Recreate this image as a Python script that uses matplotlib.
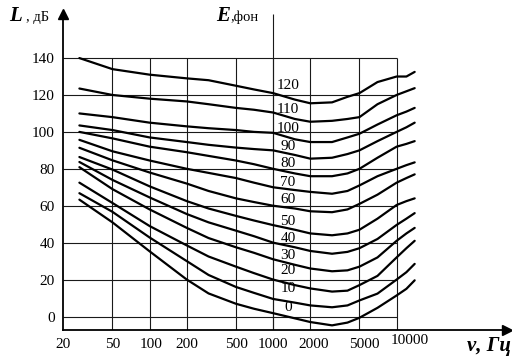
import numpy as np
import matplotlib
matplotlib.use("Agg")
from matplotlib import pyplot as plt

plt.rcParams['font.family'] = ['Liberation Serif', 'DejaVu Serif']

# equal-loudness contours, level L (dB)
freqs = [27, 50, 100, 200, 300, 500, 700, 1000, 1500, 2000, 3000, 4000, 5000, 7000, 10000, 12000, 14000]
L120 = [140, 134, 131, 129, 128, 125, 123, 121, 117.5, 115.5, 116, 119, 121, 127, 130, 130, 132.5]
L110 = [123.5, 120, 118, 116.5, 115, 113, 112, 110.5, 107, 105.5, 106, 107, 108, 115, 120, 122, 123.7]
L100 = [110, 108, 105, 103, 102, 101, 100, 99.5, 96, 94.5, 94.5, 97, 99, 104, 109, 111, 113]
L90 = [103.5, 101, 97, 94.5, 93, 91.5, 90.7, 90, 87.5, 85.5, 86, 88, 90, 95, 100, 102.5, 105]
L80 = [100, 96.5, 92, 89, 87, 84.5, 82.5, 80, 77.5, 76, 76, 77.5, 80, 86, 92, 93.5, 95]
L70 = [95.7, 89.5, 84.5, 80, 77.8, 75, 72.5, 70, 68.5, 67.5, 66.5, 68, 71, 76, 80, 82, 83.5]
L60 = [91.4, 84.6, 78, 72, 68, 64, 62, 60, 58.5, 57, 56.5, 58, 61, 66, 72.5, 75, 77]
L50 = [86.4, 79.6, 70.5, 62.5, 58.5, 54.5, 52, 49.5, 47, 45, 44, 45, 47, 53, 60.4, 62.5, 64]
L40 = [83.7, 74, 64.5, 55.5, 51, 46.5, 43.5, 40, 37.5, 35.5, 34, 35, 37, 42, 49.6, 53, 56]
L30 = [80.9, 69, 58, 48, 42.5, 37.5, 34.5, 31, 28, 26, 24.5, 25, 27, 32, 41, 45, 48]
L20 = [72.5, 61.5, 49, 38.5, 32.5, 27, 23.5, 20, 17, 15.2, 13.5, 14, 17, 22, 32, 37, 41]
L10 = [66.8, 56.7, 42.8, 30, 22.5, 16, 12.8, 9.5, 7.5, 6, 5, 6, 8.7, 12.4, 20, 24, 28.5]
L0 = [63.3, 51, 35.3, 20, 12.5, 6.9, 4.2, 1.8, -1, -3, -4.8, -3.3, -0.7, 4.7, 11.4, 15, 19.6]

phons = [120, 110, 100, 90, 80, 70, 60, 50, 40, 30, 20, 10, 0]
curves = [L120, L110, L100, L90, L80, L70, L60, L50, L40, L30, L20, L10, L0]

x_ticks = [20, 50, 100, 200, 500, 1000, 2000, 5000, 10000]
y_ticks = [0, 20, 40, 60, 80, 100, 120, 140]

W, H = 512, 362
# pixel layout of the scan
x0_px, px_per_dec = 63.3, 123.5
y0_px, px_per_db = 316.5, 1.846
left_px, right_px, top_px, bot_px = 63.3, 507, 14, 330
# how far (px) each contour label sits above its curve at 1000 Hz
lab_up = [8, 3, 4, 4, 5, 5, 6, 4, 4, 4, 9, 10, 6]

fig = plt.figure(figsize=(W / 100, H / 100), dpi=100)
ax = fig.add_axes([left_px / W, 1 - bot_px / H, (right_px - left_px) / W, (bot_px - top_px) / H])
ax.set_xscale('log')
ax.set_xlim(20, 20 * 10 ** ((right_px - x0_px) / px_per_dec))
ax.set_ylim((y0_px - bot_px) / px_per_db, (y0_px - top_px) / px_per_db)
ymin, ymax = ax.get_ylim()

for s in ['top', 'right']:
    ax.spines[s].set_visible(False)
for s in ['left', 'bottom']:
    ax.spines[s].set_linewidth(1.3)
ax.plot([0], [1], marker='^', ms=7, color='k', transform=ax.transAxes, clip_on=False)
ax.plot([1], [0], marker='>', ms=7, color='k', transform=ax.transAxes, clip_on=False)

# grid
gc = '#1a1a1a'
ax.hlines(y_ticks, 20, 10000, color=gc, lw=0.8)
ax.vlines(x_ticks[1:], ymin, 140, color=gc, lw=0.8)
ax.vlines(1000, ymin, ymax, color=gc, lw=0.8)

# curves
for ph, lv, up in zip(phons, curves, lab_up):
    ax.plot(freqs, lv, color='black', lw=1.6, solid_capstyle='round', solid_joinstyle='round')
    ax.text(1320, lv[freqs.index(1000)] + up / px_per_db, str(ph), fontsize=11,
            ha='center', va='center')

# ticks
ax.set_xticks([])
ax.set_yticks(y_ticks)
ax.set_yticklabels([str(v) for v in y_ticks], fontsize=11)
ax.tick_params(axis='y', length=0, pad=6)
ax.minorticks_off()
x_shift = [0, 0, 1, 0, 1, 0, 3, 5, 13]
for f, dx in zip(x_ticks, x_shift):
    xp = x0_px + px_per_dec * np.log10(f / 20) + dx
    yp = 341 if f == 10000 else 344
    fig.text(xp / W, 1 - yp / H, str(f), fontsize=11, ha='center', va='center')

# axis titles
fig.text(16 / W, 1 - 16 / H, 'L', fontsize=15, fontweight='bold', fontstyle='italic', ha='center', va='center')
fig.text(26 / W, 1 - 17 / H, ', дБ', fontsize=10.5, ha='left', va='center')
fig.text(223 / W, 1 - 16 / H, 'E', fontsize=15, fontweight='bold', fontstyle='italic', ha='center', va='center')
fig.text(230 / W, 1 - 17 / H, ',фон', fontsize=10.5, ha='left', va='center')
fig.text(511 / W, 1 - 346 / H, 'ν, Гц', fontsize=15, fontweight='bold', fontstyle='italic', ha='right', va='center')

fig.savefig('out.png', dpi=100)
